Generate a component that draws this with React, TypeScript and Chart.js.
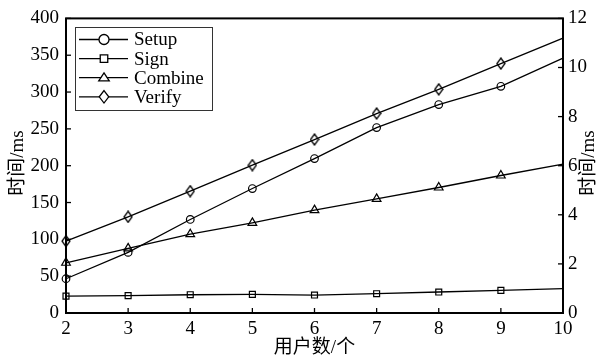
import React, { useEffect, useRef } from 'react';
import { Chart, registerables } from 'chart.js';

Chart.register(...registerables);

const users = ['2', '3', '4', '5', '6', '7', '8', '9', '10'];
const seriesNames = ['Setup', 'Sign', 'Combine', 'Verify'];
const setupMs = [46.5, 82.3, 127, 169, 209.7, 251.8, 283, 307.8, 346];
const signMs = [23, 23.6, 24.8, 25.3, 24.4, 26.2, 28.5, 30.8, 33];
const combineMs = [68.2, 87.7, 107, 122.4, 139.7, 155, 170.4, 186.7, 202];
const verifyMs = [97.6, 130.6, 165.4, 200.7, 235.5, 270.8, 303.7, 338.6, 373.3];
const leftMax = 400;
const leftStep = 50;
const rightMax = 12;
const rightStep = 2;
const xTitle = '用户数/个';
const yTitle = '时间/ms';

const FONT = '"Liberation Serif", "Times New Roman", "Noto Sans CJK SC", serif';

function makeDiamond(w: number, h: number, lw: number) {
  const c = document.createElement('canvas');
  c.width = w + 2;
  c.height = h + 2;
  const g = c.getContext('2d')!;
  g.beginPath();
  g.moveTo(c.width / 2, 1);
  g.lineTo(c.width - 1, c.height / 2);
  g.lineTo(c.width / 2, c.height - 1);
  g.lineTo(1, c.height / 2);
  g.closePath();
  g.lineWidth = lw;
  g.strokeStyle = '#000';
  g.stroke();
  return c;
}

function drawMarker(ctx: CanvasRenderingContext2D, kind: string, x: number, y: number, s: number) {
  ctx.beginPath();
  if (kind === 'circle') {
    ctx.arc(x, y, s, 0, Math.PI * 2);
  } else if (kind === 'rect') {
    ctx.rect(x - s * 0.75, y - s * 0.75, s * 1.5, s * 1.5);
  } else if (kind === 'triangle') {
    const h = s * 1.6;
    ctx.moveTo(x, y - h * 0.6);
    ctx.lineTo(x + s * 1.05, y + h * 0.4);
    ctx.lineTo(x - s * 1.05, y + h * 0.4);
    ctx.closePath();
  } else {
    ctx.moveTo(x, y - s * 1.25);
    ctx.lineTo(x + s * 0.95, y);
    ctx.lineTo(x, y + s * 1.25);
    ctx.lineTo(x - s * 0.95, y);
    ctx.closePath();
  }
  ctx.fillStyle = '#fff';
  ctx.fill();
  ctx.stroke();
}

const markerKinds = ['circle', 'rect', 'triangle', 'diamond'];

const decorPlugin = {
  id: 'decor',
  afterDraw(chart: any) {
    const { ctx, chartArea } = chart;
    const { left, right, top, bottom } = chartArea;
    ctx.save();
    ctx.strokeStyle = '#000';
    // inward ticks
    ctx.lineWidth = 1.3;
    const xs = chart.scales.x;
    xs.ticks.forEach((_: any, i: number) => {
      const px = xs.getPixelForTick(i);
      ctx.beginPath();
      ctx.moveTo(px, bottom);
      ctx.lineTo(px, bottom - 5);
      ctx.stroke();
    });
    const ys = chart.scales.y;
    ys.ticks.forEach((_: any, i: number) => {
      const py = ys.getPixelForTick(i);
      ctx.beginPath();
      ctx.moveTo(left, py);
      ctx.lineTo(left + 5, py);
      ctx.stroke();
    });
    const y2 = chart.scales.y2;
    y2.ticks.forEach((_: any, i: number) => {
      const py = y2.getPixelForTick(i);
      ctx.beginPath();
      ctx.moveTo(right, py);
      ctx.lineTo(right - 5, py);
      ctx.stroke();
    });
    // frame
    ctx.lineWidth = 2;
    ctx.strokeRect(left, top, right - left, bottom - top);

    // legend
    const bx = 75, by = 27, bw = 137, bh = 83;
    ctx.lineWidth = 1;
    ctx.fillStyle = '#fff';
    ctx.fillRect(bx, by, bw, bh);
    ctx.strokeStyle = '#333';
    ctx.strokeRect(bx + 0.5, by + 0.5, bw, bh);
    ctx.strokeStyle = '#000';
    ctx.font = `19px ${FONT}`;
    ctx.textBaseline = 'middle';
    ctx.textAlign = 'left';
    seriesNames.forEach((name, i) => {
      const ry = 39.5 + i * 19.1;
      ctx.lineWidth = 1.3;
      ctx.beginPath();
      ctx.moveTo(79, ry);
      ctx.lineTo(128, ry);
      ctx.stroke();
      drawMarker(ctx, markerKinds[i], 104, ry, 5);
      ctx.fillStyle = '#000';
      ctx.fillText(name, 134, ry + 1);
    });

    // axis titles
    ctx.fillStyle = '#000';
    ctx.font = `19px ${FONT}`;
    ctx.textAlign = 'center';
    ctx.textBaseline = 'middle';
    ctx.fillText(xTitle, (left + right) / 2, 348);
    ctx.save();
    ctx.translate(18, 163);
    ctx.rotate(-Math.PI / 2);
    ctx.fillText(yTitle, 0, 0);
    ctx.restore();
    ctx.save();
    ctx.translate(589, 163);
    ctx.rotate(-Math.PI / 2);
    ctx.fillText(yTitle, 0, 0);
    ctx.restore();
    ctx.restore();
  },
};

export default function App() {
  const ref = useRef<HTMLCanvasElement | null>(null);
  useEffect(() => {
    document.body.style.margin = '0';
    const canvas = ref.current!;
    const diamond = makeDiamond(8, 11, 1.3);
    const last = users.length - 1;
    const mk = (label: string, data: number[], style: any, radius: number) => ({
      label,
      data,
      borderColor: '#000',
      borderWidth: 1.3,
      pointStyle: style,
      pointBorderColor: '#000',
      pointBackgroundColor: 'rgba(0,0,0,0)',
      pointBorderWidth: 1.2,
      pointRadius: (c: any) => (c.dataIndex === last ? 0 : radius),
      tension: 0,
      clip: false as any,
      yAxisID: 'y',
    });
    const chart = new Chart(canvas, {
      type: 'line',
      data: {
        labels: users,
        datasets: [
          mk(seriesNames[0], setupMs, 'circle', 3.8),
          mk(seriesNames[1], signMs, 'rect', 4.2),
          mk(seriesNames[2], combineMs, 'triangle', 5),
          mk(seriesNames[3], verifyMs, diamond, 5),
        ],
      },
      options: {
        responsive: false,
        animation: false,
        layout: { padding: { top: 18, left: 0, right: 0, bottom: 0 } },
        plugins: { legend: { display: false }, tooltip: { enabled: false } },
        scales: {
          x: {
            type: 'category',
            offset: false,
            grid: { display: false, drawTicks: false },
            border: { display: false },
            ticks: { color: '#000', padding: 5, font: { family: FONT, size: 19 }, maxRotation: 0 },
            afterFit: (s: any) => { s.height = 46; },
          },
          y: {
            position: 'left',
            min: 0,
            max: leftMax,
            grid: { display: false, drawTicks: false },
            border: { display: false },
            ticks: { stepSize: leftStep, color: '#000', padding: 7, font: { family: FONT, size: 19 } },
            afterFit: (s: any) => { s.width = 66; },
          },
          y2: {
            position: 'right',
            min: 0,
            max: rightMax,
            grid: { display: false, drawTicks: false },
            border: { display: false },
            ticks: { stepSize: rightStep, color: '#000', padding: 5, font: { family: FONT, size: 19 } },
            afterFit: (s: any) => { s.width = 36; },
          },
        },
      },
      plugins: [decorPlugin],
    } as any);
    return () => chart.destroy();
  }, []);
  return <canvas ref={ref} width={599} height={359} style={{ display: 'block' }} />;
}
